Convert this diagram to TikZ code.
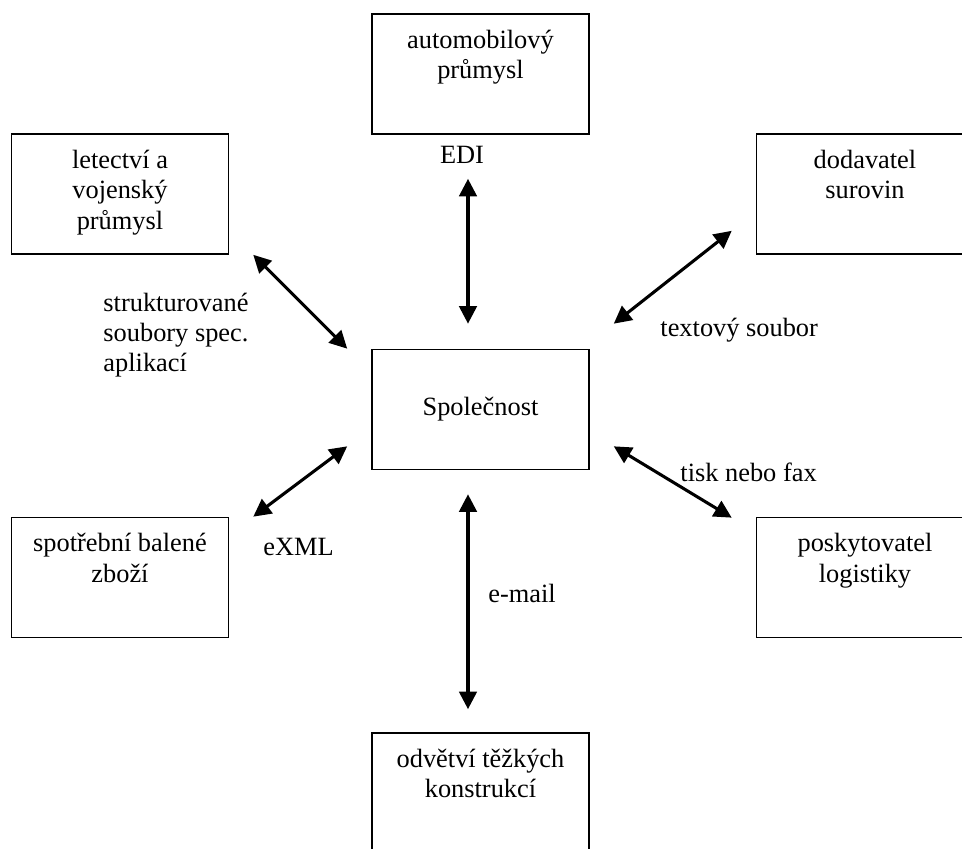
\documentclass[tikz,border=0pt]{standalone}
\usepackage{fontspec}
\setmainfont{Liberation Serif}
\usetikzlibrary{arrows.meta,calc}

\tikzset{
  box/.style={draw, line width=0.75pt, minimum width=98.7pt, minimum height=54.6pt, inner sep=0pt},
  boxtext/.style={anchor=north, align=center, inner sep=0pt, yshift=-7.5pt},
  link/.style={line width=1.4pt, {Triangle[length=8pt,width=8pt]}-{Triangle[length=8pt,width=8pt]}},
  tag/.style={anchor=west, align=left, inner sep=0pt}
}

\begin{document}
\begin{tikzpicture}[x=0.455pt, y=-0.455pt, font=\fontsize{12pt}{13.8pt}\selectfont]
\useasboundingbox (0,0) rectangle (962,849);

% odvetvi kolem spolecnosti
\node[box, label={[boxtext]north:automobilový\\průmysl}] (auto) at (480.5,74) {};
\node[box, label={[boxtext]north:letectví a\\vojenský\\průmysl}] (letectvi) at (120,194) {};
\node[box, label={[boxtext]north:dodavatel\\surovin}] (dodavatel) at (865,194) {};
\node[box] (spol) at (480.5,409.5) {Společnost};
\node[box, label={[boxtext]north:spotřební balené\\zboží}] (spotrebni) at (120,577.5) {};
\node[box, label={[boxtext]north:poskytovatel\\logistiky}] (logistika) at (865,577.5) {};
\node[box, label={[boxtext]north:odvětví těžkých\\konstrukcí}] (konstrukce) at (480.5,793) {};

% spojeni
\draw[link] ($(auto.south)+(-12.5,44)$) -- ($(spol.north)+(-12.5,-25)$);
\draw[link] ($(letectvi.south east)+(24,0)$) -- ($(spol.north west)+(-24,0)$);
\draw[link] ($(spol.north east)+(24,-25)$) -- ($(dodavatel.south west)+(-24,-24)$);
\draw[link] ($(spotrebni.north east)+(24,0)$) -- ($(spol.south west)+(-24,-24)$);
\draw[link] ($(spol.south east)+(24,-24)$) -- ($(logistika.north west)+(-24,1)$);
\draw[link] ($(spol.south)+(-12.5,24)$) -- ($(konstrukce.north)+(-12.5,-23)$);

% popisky
\node (edi) at (462,155) {EDI};
\node[tag] (struk) at (103,335) {strukturované\\soubory spec.\\aplikací};
\node[tag] (textsoub) at (660,330) {textový soubor};
\node[tag] (exml) at (263,547) {eXML};
\node[tag] (tisk) at (680,472) {tisk nebo fax};
\node[tag] (mail) at (488,593) {e-mail};

\end{tikzpicture}
\end{document}
